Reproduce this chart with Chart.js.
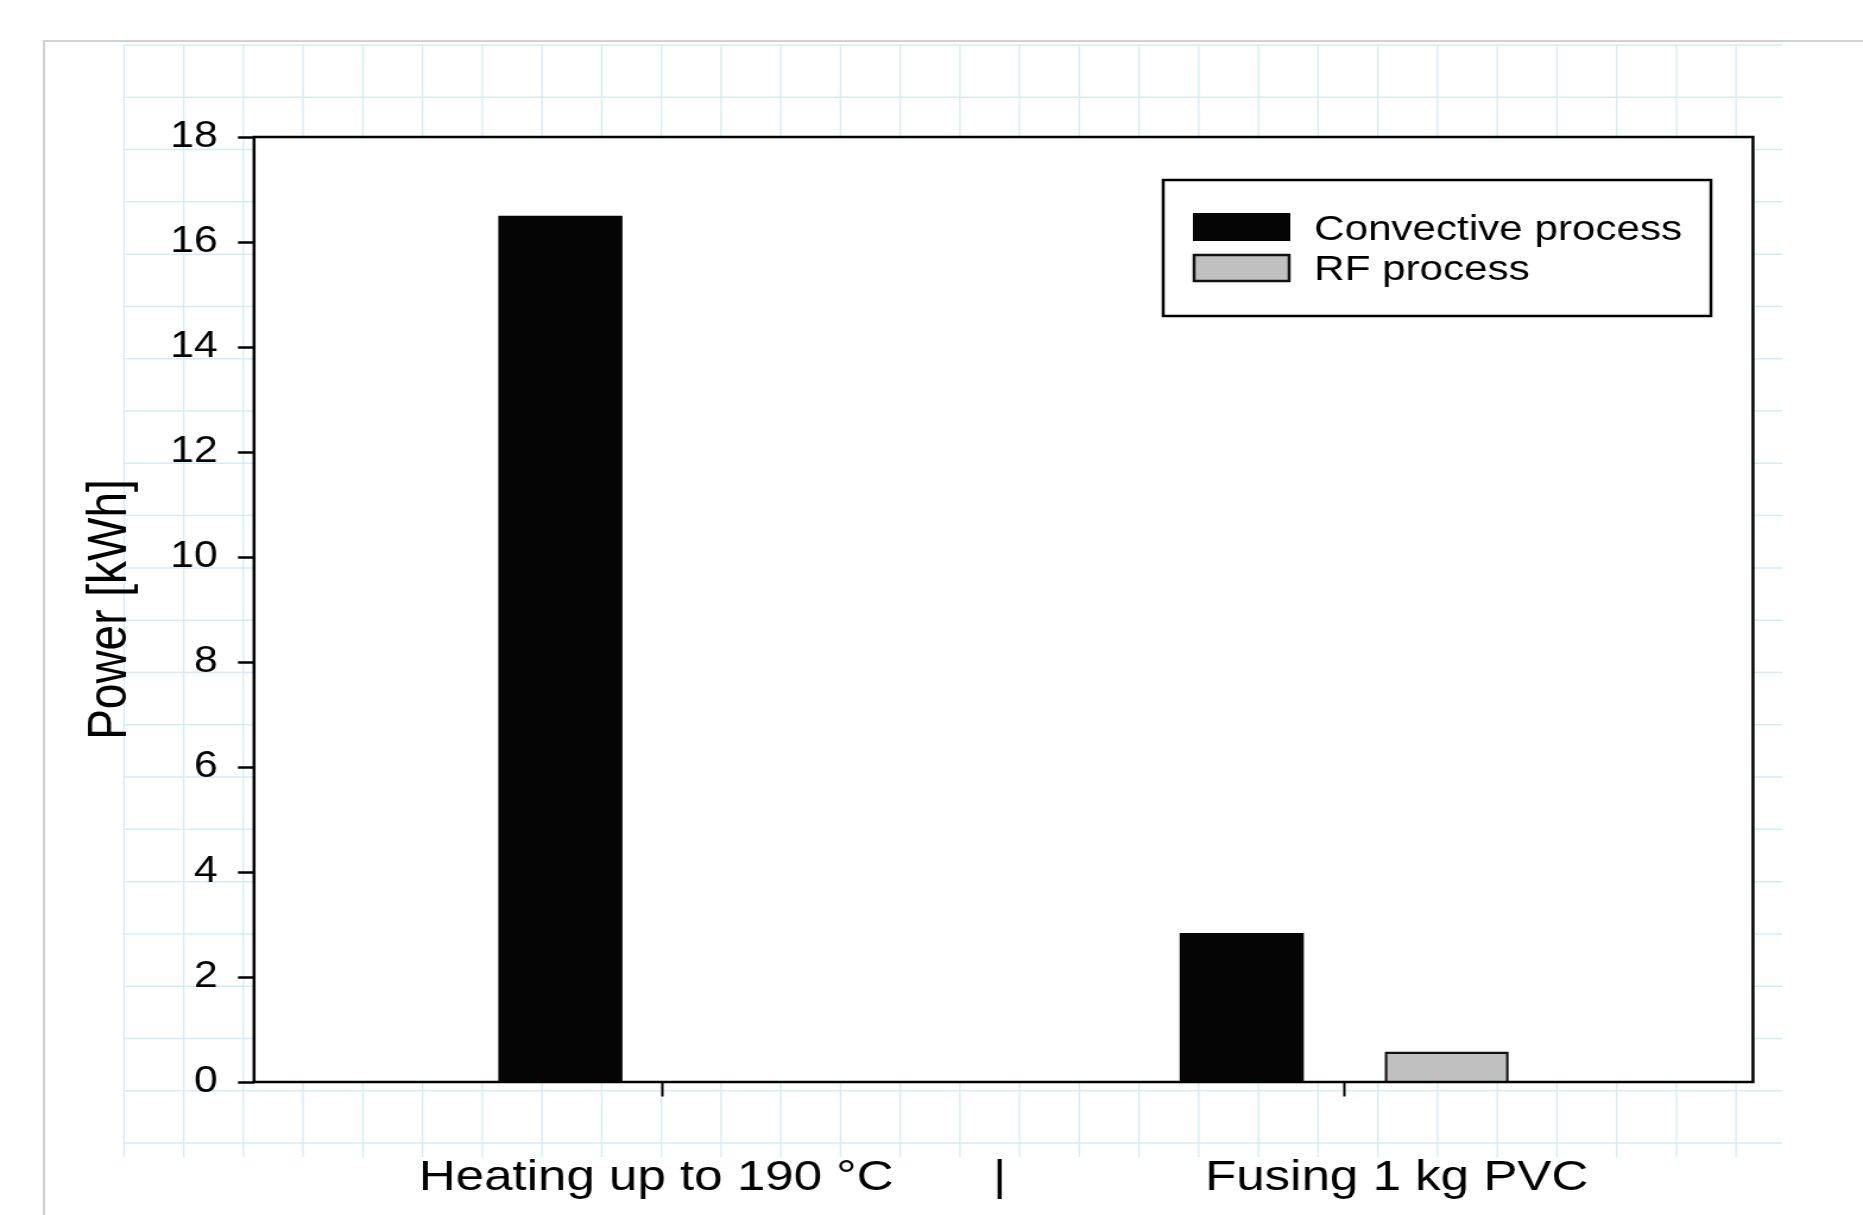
<!DOCTYPE html>
<html>
<head>
<meta charset="utf-8">
<script src="https://cdn.jsdelivr.net/npm/chart.js@4.4.1/dist/chart.umd.min.js"></script>
<style>
  html, body { margin: 0; padding: 0; background: #ffffff; overflow: hidden; }
  #wrap { width: 1568px; height: 1215px; transform: scaleX(1.18814); transform-origin: 0 0; }
  canvas { display: block; }
</style>
</head>
<body>
<div id="wrap"><canvas id="c" width="1568" height="1215"></canvas></div>
<script>
// ---- data ----
const categories = ['Heating up to 190 °C', 'Fusing 1 kg PVC'];
const convective = [16.5, 2.84];
const rf = [null, 0.58];
const seriesNames = ['Convective process', 'RF process'];
const yTitle = 'Power [kWh]';
const yMin = 0, yMax = 18, yStep = 2;

const xTitle = categories[0] + ' '.repeat(7) + '|' + ' '.repeat(14) + categories[1];

const FONT = "'Liberation Sans', Arial, Helvetica, sans-serif";
Chart.defaults.font.family = FONT;
Chart.defaults.color = '#000';

const paperPlugin = {
  id: 'paper',
  beforeDraw(chart) {
    const ctx = chart.ctx;
    const W = chart.width, H = chart.height;
    ctx.save();
    ctx.fillStyle = '#ffffff';
    ctx.fillRect(0, 0, W, H);
    // outer light grey frame
    ctx.strokeStyle = '#d2d2d2';
    ctx.lineWidth = 2;
    ctx.beginPath();
    ctx.moveTo(37, H + 5);
    ctx.lineTo(37, 41);
    ctx.lineTo(W + 5, 41);
    ctx.stroke();
    // light blue paper grid
    const gl = 104.4, gt = 45, gr = 1500, gb = 1157, cs = 50.25, rs = 52.29;
    ctx.strokeStyle = '#d4ecf3';
    ctx.lineWidth = 1.3;
    for (let k = 0; k <= 27; k++) {
      const x = gl + k * cs;
      ctx.beginPath(); ctx.moveTo(x, gt); ctx.lineTo(x, gb); ctx.stroke();
    }
    ctx.lineWidth = 1.5;
    for (let k = 0; k <= 21; k++) {
      const y = gt + k * rs;
      ctx.beginPath(); ctx.moveTo(gl, y); ctx.lineTo(gr, y); ctx.stroke();
    }
    // white plot area
    const a = chart.chartArea;
    ctx.fillStyle = '#ffffff';
    ctx.fillRect(a.left, a.top, a.right - a.left, a.bottom - a.top);
    ctx.restore();
  },
  afterDatasetsDraw(chart) {
    const ctx = chart.ctx;
    const a = chart.chartArea;
    ctx.save();
    ctx.strokeStyle = '#000';
    ctx.lineWidth = 2.5;
    ctx.strokeRect(a.left, a.top, a.right - a.left, a.bottom - a.top);

    // legend box
    const lx = 979, ly = 180, lw = 461, lh = 136;
    ctx.fillStyle = '#fff';
    ctx.fillRect(lx, ly, lw, lh);
    ctx.lineWidth = 2.5;
    ctx.strokeRect(lx, ly, lw, lh);
    const ds = chart.data.datasets;
    const rows = [{ y: 213, base: 240 }, { y: 254, base: 280 }];
    ds.forEach((d, i) => {
      const r = rows[i];
      ctx.fillStyle = d.backgroundColor;
      ctx.fillRect(1004, r.y, 82, 28);
      if (d.borderWidth) {
        ctx.lineWidth = 2.5;
        ctx.strokeStyle = d.borderColor;
        ctx.strokeRect(1005, r.y + 1, 80, 26);
      }
      ctx.fillStyle = '#000';
      ctx.font = '35.5px ' + FONT;
      ctx.textAlign = 'left';
      ctx.textBaseline = 'alphabetic';
      ctx.fillText(d.label, 1106, r.base);
    });
    ctx.restore();
  }
};

const toPoints = arr => categories.map((c, i) => ({ x: i + 1, y: arr[i] }));

new Chart(document.getElementById('c'), {
  type: 'bar',
  data: {
    datasets: [
      { label: seriesNames[0], data: toPoints(convective), backgroundColor: '#050505', borderWidth: 0 },
      { label: seriesNames[1], data: toPoints(rf), backgroundColor: '#c0c0c0', borderColor: '#111', borderWidth: 2.5 }
    ]
  },
  options: {
    responsive: false,
    devicePixelRatio: 1,
    animation: false,
    categoryPercentage: 0.6016,
    barPercentage: 0.6058,
    layout: { padding: { left: 0, top: 137, right: 92.6, bottom: 0 } },
    plugins: { legend: { display: false }, tooltip: { enabled: false } },
    scales: {
      x: {
        type: 'linear',
        min: 0.4, max: 2.6,
        offset: false,
        afterBuildTicks: s => { s.ticks = categories.map((c, i) => ({ value: i + 1 })); },
        ticks: { display: false },
        grid: { display: true, offset: false, drawOnChartArea: false, drawTicks: true, tickLength: 14.5, tickWidth: 2, tickColor: '#000' },
        border: { display: false },
        title: { display: true, text: xTitle, color: '#000', font: { size: 43, family: FONT }, padding: { top: 0, bottom: 11 } },
        afterFit: s => { s.height = 133; }
      },
      y: {
        min: yMin, max: yMax,
        ticks: { stepSize: yStep, color: '#000', font: { size: 36, family: FONT }, padding: 17 },
        grid: { display: true, drawOnChartArea: false, drawTicks: true, tickLength: 13.5, tickWidth: 2.5, tickColor: '#000' },
        border: { display: false },
        title: { display: true, text: yTitle, color: '#000', font: { size: 46, family: FONT }, padding: { top: 66, bottom: 0 } },
        afterFit: s => { s.width = 213.8; }
      }
    }
  },
  plugins: [paperPlugin]
});
</script>
</body>
</html>
